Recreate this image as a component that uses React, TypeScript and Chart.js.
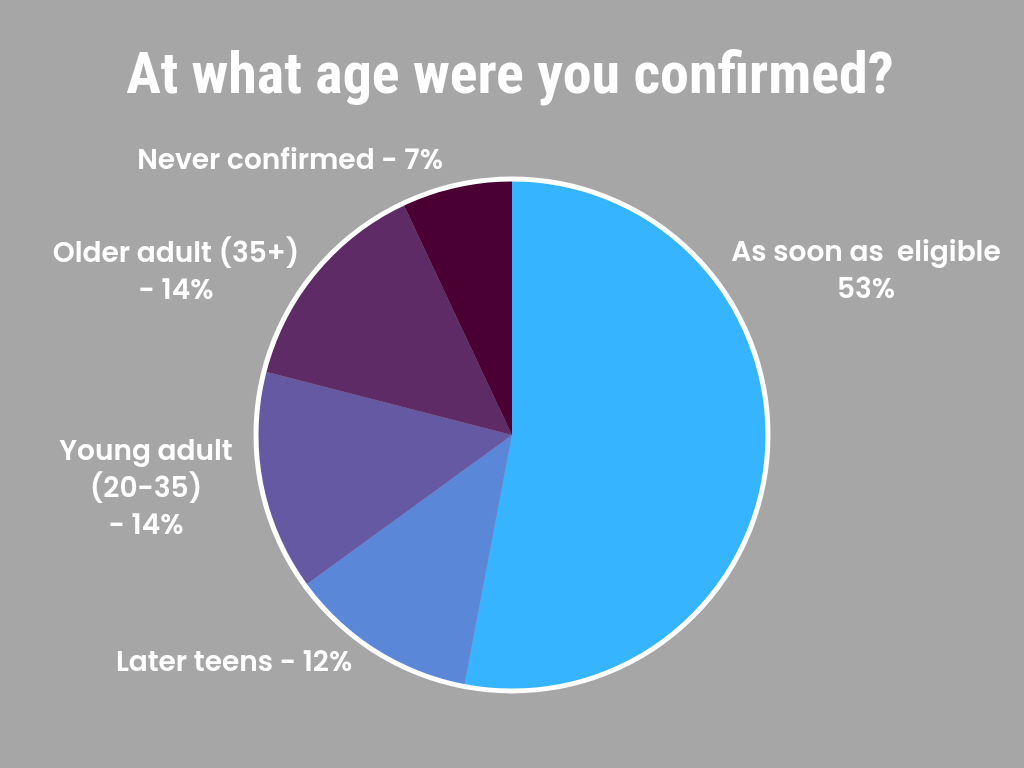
import React, { useEffect, useRef } from "react";
import { Chart, registerables } from "chart.js";

Chart.register(...registerables);

const titleText = "At what age were you confirmed?";
const categories = [
  "As soon as  eligible",
  "Later teens",
  "Young adult (20-35)",
  "Older adult (35+)",
  "Never confirmed",
];
const values = [53, 12, 14, 14, 7];
const labelLines = [
  ["As soon as  eligible", "53%"],
  ["Later teens - 12%"],
  ["Young adult", "(20-35)", "- 14%"],
  ["Older adult (35+)", "- 14%"],
  ["Never confirmed - 7%"],
];
const colors = ["#36B4FF", "#5B87D8", "#6559A3", "#5E2B66", "#4A0033"];
// label centre offsets relative to pie centre (style only)
const labelOffsets = [
  [354, -163],
  [-278, 229],
  [-366, 55],
  [-336, -162],
  [-222, -273],
];

const overlayPlugin = {
  id: "overlay",
  afterDatasetsDraw(chart: any) {
    const ctx = chart.ctx;
    const arc = chart.getDatasetMeta(0).data[0];
    const cx = arc.x;
    const cy = arc.y;
    const r = arc.outerRadius;
    ctx.save();
    ctx.beginPath();
    ctx.arc(cx, cy, r, 0, Math.PI * 2);
    ctx.strokeStyle = "#FFFFFF";
    ctx.lineWidth = 5;
    ctx.stroke();

    ctx.fillStyle = "#FFFFFF";
    ctx.textAlign = "center";
    ctx.textBaseline = "middle";
    ctx.font = "bold 58px 'Roboto Condensed', 'Liberation Sans Narrow', 'DejaVu Sans Condensed', sans-serif";
    ctx.fillText(titleText, 510, 78);

    ctx.font = "600 28px Poppins, 'Noto Sans', 'Open Sans', sans-serif";
    labelLines.forEach((lines, i) => {
      const [dx, dy] = labelOffsets[i];
      const lh = 37;
      const startY = cy + dy - ((lines.length - 1) * lh) / 2;
      lines.forEach((t, j) => {
        ctx.fillText(t, cx + dx, startY + j * lh);
      });
    });
    ctx.restore();
  },
};

export default function App() {
  const ref = useRef<HTMLCanvasElement>(null);
  useEffect(() => {
    if (!ref.current) return;
    const chart = new Chart(ref.current, {
      type: "pie",
      data: {
        labels: categories,
        datasets: [
          {
            data: values,
            backgroundColor: colors,
            borderWidth: 0,
          },
        ],
      },
      options: {
        responsive: false,
        animation: false,
        layout: { padding: { top: 179, bottom: 77, left: 200, right: 200 } },
        plugins: {
          legend: { display: false },
          title: { display: false },
          tooltip: { enabled: false },
        },
      },
      plugins: [overlayPlugin],
    });
    return () => chart.destroy();
  }, []);
  return (
    <div style={{ position: "absolute", left: 0, top: 0, width: 1024, height: 768, background: "#A6A6A6" }}>
      <canvas ref={ref} width={1024} height={768} />
    </div>
  );
}
